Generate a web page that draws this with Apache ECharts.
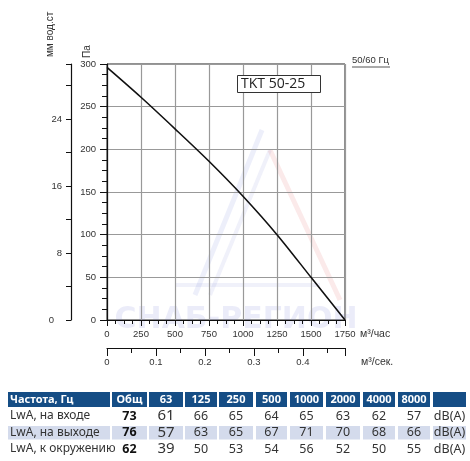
<!DOCTYPE html>
<html>
<head>
<meta charset="utf-8">
<script src="https://cdn.jsdelivr.net/npm/echarts@6/dist/echarts.min.js"></script>
<style>
  html, body { margin: 0; padding: 0; background: #fff; }
  #chart { width: 470px; height: 461px; }
</style>
</head>
<body>
<div id="chart"></div>
<script>
// fan curve, flow m3/h vs static pressure Pa
const flowM3h = [0, 250, 500, 750, 1000, 1250, 1500, 1750];
const pressurePa = [296, 261, 224, 186, 145, 100, 50, 0];
const modelName = 'TKT 50-25';

// sound table
const tableHeaders = ['Частота, Гц', 'Общ', '63', '125', '250', '500', '1000', '2000', '4000', '8000', ''];
const rowLabels = ['LwA, на входе', 'LwA, на выходе', 'LwA, к окружению'];
const totals = [73, 76, 62];
const inletValues = [61, 66, 65, 64, 65, 63, 62, 57];
const outletValues = [57, 63, 65, 67, 71, 70, 68, 66];
const ambientValues = [39, 50, 53, 54, 56, 52, 50, 55];
const unitLabel = 'dB(A)';

const PA_PER_MM = 9.80665;
const flowMax = 1750;
const paMax = 300;

const labelFont = { color: '#333', fontSize: 9.5, fontFamily: 'Liberation Sans, Arial' };
const colEdges = [[8, 110], [112, 147], [149, 183], [185, 217], [219, 253], [256, 287], [290, 323], [326, 360], [363, 395], [398, 430], [433, 466]];
const headerTop = 392, headerH = 15;
const rowMid = [416, 432.5, 449];

const buildTable = () => {
  const els = [];
  tableHeaders.forEach((h, i) => {
    const [x0, x1] = colEdges[i];
    els.push({ type: 'rect', shape: { x: x0, y: headerTop, width: x1 - x0, height: headerH }, style: { fill: '#154d85' } });
    if (h) {
      els.push({
        type: 'text', x: i === 0 ? x0 + 2 : (x0 + x1) / 2, y: headerTop + headerH / 2,
        style: { text: h, fill: '#fff', font: 'bold 11px "Noto Sans"', align: i === 0 ? 'left' : 'center', verticalAlign: 'middle' }
      });
    }
  });
  // shaded second row
  colEdges.forEach(([x0, x1]) => {
    els.push({ type: 'rect', shape: { x: x0, y: 426, width: x1 - x0, height: 13.5 }, style: { fill: '#d4dbec' } });
  });
  const rows = [inletValues, outletValues, ambientValues];
  rowLabels.forEach((lab, r) => {
    const y = rowMid[r];
    els.push({ type: 'text', x: 10, y, style: { text: lab, fill: '#333', font: '12px "Noto Sans"', verticalAlign: 'middle' } });
    els.push({ type: 'text', x: (colEdges[1][0] + colEdges[1][1]) / 2, y, style: { text: String(totals[r]), fill: '#111', font: 'bold 12.5px "Noto Sans"', align: 'center', verticalAlign: 'middle' } });
    rows[r].forEach((v, c) => {
      const [x0, x1] = colEdges[c + 2];
      els.push({ type: 'text', x: (x0 + x1) / 2, y, style: { text: String(v), fill: '#333', font: (c === 0 ? '15px' : '12.5px') + ' "Noto Sans"', align: 'center', verticalAlign: 'middle' } });
    });
    els.push({ type: 'text', x: (colEdges[10][0] + colEdges[10][1]) / 2, y, style: { text: unitLabel, fill: '#333', font: '12.5px "Noto Sans"', align: 'center', verticalAlign: 'middle' } });
  });
  return els;
};

const chart = echarts.init(document.getElementById('chart'));

chart.setOption({
  animation: false,
  backgroundColor: '#fff',
  grid: { left: 107, top: 64, width: 238, height: 256, show: true, borderColor: '#222', borderWidth: 1, backgroundColor: 'transparent' },
  xAxis: [
    {
      type: 'value', min: 0, max: flowMax, interval: 250, position: 'bottom',
      axisLine: { onZero: false, lineStyle: { color: '#111', width: 1.2 } },
      axisTick: { length: 6, lineStyle: { color: '#111' } },
      minorTick: { show: true, splitNumber: 4, length: 4, lineStyle: { color: '#111' } },
      splitLine: { lineStyle: { color: '#999', width: 1.2 } },
      axisLabel: { ...labelFont, margin: 9, formatter: v => String(v) }
    },
    {
      type: 'value', min: 0, max: flowMax / 3600, interval: 0.1, position: 'bottom', offset: 28,
      axisLine: { onZero: false, lineStyle: { color: '#111', width: 1.2 } },
      axisTick: { length: 8, lineStyle: { color: '#111' } },
      minorTick: { show: true, splitNumber: 2, length: 5, lineStyle: { color: '#111' } },
      splitLine: { show: false },
      axisLabel: { ...labelFont, margin: 9, showMaxLabel: false, formatter: v => String(+v.toFixed(2)) }
    }
  ],
  yAxis: [
    {
      type: 'value', min: 0, max: paMax, interval: 50, position: 'left',
      axisLine: { show: true, onZero: false, lineStyle: { color: '#111', width: 1.2 } },
      axisTick: { show: true, length: 7, lineStyle: { color: '#111' } },
      minorTick: { show: true, splitNumber: 4, length: 5, lineStyle: { color: '#111' } },
      splitLine: { lineStyle: { color: '#999', width: 1.2 } },
      axisLabel: { ...labelFont, margin: 11 }
    },
    {
      type: 'value', min: 0, max: paMax / PA_PER_MM, interval: 8, position: 'left', offset: 36,
      axisLine: { show: true, onZero: false, lineStyle: { color: '#111', width: 1.2 } },
      axisTick: { show: true, length: 5, lineStyle: { color: '#111' } },
      minorTick: { show: true, splitNumber: 2, length: 5, lineStyle: { color: '#111' } },
      splitLine: { show: false },
      axisLabel: {
        ...labelFont, margin: 9, showMaxLabel: false,
        formatter: v => (v === 0 ? '{z|0}' : String(v)),
        rich: { z: { ...labelFont, padding: [0, 8, 0, 0] } }
      }
    }
  ],
  series: [
    {
      type: 'line',
      xAxisIndex: 0, yAxisIndex: 0,
      data: flowM3h.map((f, i) => [f, pressurePa[i]]),
      smooth: 0.3,
      showSymbol: false,
      lineStyle: { color: '#111', width: 1.6 },
      z: 5
    }
  ],
  graphic: [
    // faint watermark
    { type: 'polyline', shape: { points: [[195, 295], [262, 130]] }, style: { stroke: 'rgba(110,120,210,0.12)', lineWidth: 5, fill: null }, silent: true },
    { type: 'polyline', shape: { points: [[210, 295], [270, 150]] }, style: { stroke: 'rgba(110,120,210,0.10)', lineWidth: 4, fill: null }, silent: true },
    { type: 'polyline', shape: { points: [[270, 150], [340, 300]] }, style: { stroke: 'rgba(220,80,80,0.12)', lineWidth: 5, fill: null }, silent: true },
    { type: 'polyline', shape: { points: [[175, 285], [320, 285]] }, style: { stroke: 'rgba(110,120,210,0.10)', lineWidth: 4, fill: null }, silent: true },
    { type: 'text', x: 236, y: 320, style: { text: 'СНАБ-РЕГИОН', fill: 'rgba(100,110,210,0.13)', font: 'bold 30px "DejaVu Sans"', align: 'center', verticalAlign: 'middle' }, silent: true },
    // model box
    { type: 'rect', shape: { x: 237.5, y: 75.5, width: 83, height: 17 }, style: { fill: '#fff', stroke: '#333', lineWidth: 1 }, z: 10 },
    { type: 'text', x: 241, y: 84.5, style: { text: modelName, fill: '#222', font: '14px "Open Sans"', verticalAlign: 'middle' }, z: 11 },
    // frequency note
    { type: 'text', x: 352, y: 60, style: { text: '50/60 Гц', fill: '#333', font: '9.5px "Liberation Sans"', verticalAlign: 'middle' } },
    { type: 'line', shape: { x1: 352, y1: 67, x2: 390, y2: 67 }, style: { stroke: '#555', lineWidth: 1 } },
    // axis names
    { type: 'text', x: 87, y: 58, rotation: Math.PI / 2, style: { text: 'Па', fill: '#333', font: '10px "Liberation Sans"', align: 'left', verticalAlign: 'middle' } },
    { type: 'text', x: 50, y: 57, rotation: Math.PI / 2, style: { text: 'мм вод.ст', fill: '#333', font: '10px "Liberation Sans"', align: 'left', verticalAlign: 'middle' } },
    // unit names
    { type: 'text', x: 360, y: 334, style: { text: 'м³/час', fill: '#333', font: '10.5px "Liberation Sans"', verticalAlign: 'middle' } },
    { type: 'text', x: 361, y: 362, style: { text: 'м³/сек.', fill: '#333', font: '10.5px "Liberation Sans"', verticalAlign: 'middle' } },
    ...buildTable()
  ]
});
</script>
</body>
</html>
